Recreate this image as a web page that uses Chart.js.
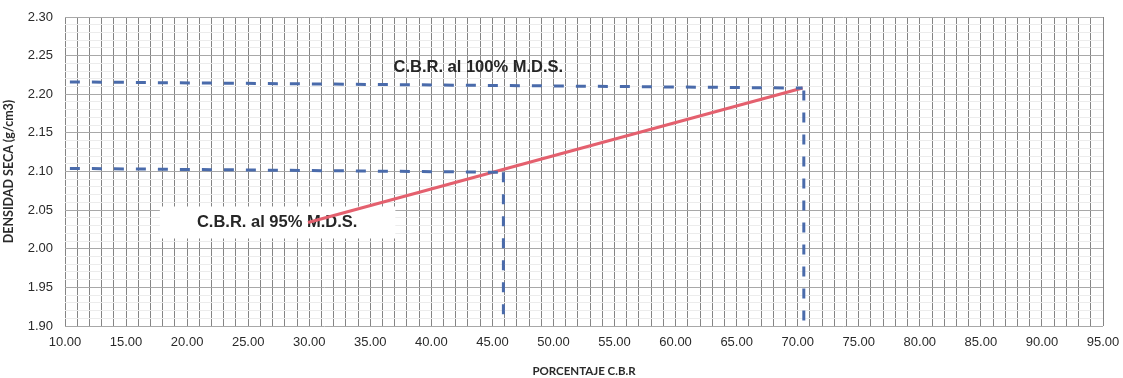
<!DOCTYPE html>
<html>
<head>
<meta charset="utf-8">
<script src="https://cdn.jsdelivr.net/npm/chart.js@4.4.1/dist/chart.umd.min.js"></script>
<style>
html,body{margin:0;padding:0;background:#fff;}
#wrap{width:1123px;height:378px;position:relative;}
</style>
</head>
<body>
<div id="wrap"><canvas id="c" width="1123" height="378"></canvas></div>
<script>
// ---- data ----
const xMin = 10, xMax = 95, xStep = 1, xLabelEvery = 5;
const yMin = 1.90, yMax = 2.30, yStep = 0.01, yLabelEvery = 0.05;

const cbrLineX = [29.9, 70.4];
const cbrLineY = [2.034, 2.208];

const upperRefX = [10.4, 70.4];
const upperRefY = [2.216, 2.208];

const lowerRefX = [10.4, 45.9];
const lowerRefY = [2.104, 2.099];

const vertLeftX = [45.9, 45.9];
const vertLeftY = [2.099, 1.90];

const vertRightX = [70.5, 70.5];
const vertRightY = [2.205, 1.90];

const label100 = "C.B.R. al 100% M.D.S.";
const label100Pos = [36.9, 2.235];
const label95 = "C.B.R. al 95% M.D.S.";
const label95Pos = [20.8, 2.034];

const xTitle = "PORCENTAJE C.B.R";
const yTitle = "DENSIDAD SECA (g/cm3)";

function pts(xs, ys){ return xs.map((x,i)=>({x:x, y:ys[i]})); }

const blue = '#4a6bab';
const red = '#e4606e';

const annotPlugin = {
  id: 'annot',
  beforeDatasetsDraw(chart){
    const {ctx, scales:{x, y}} = chart;
    ctx.save();
    ctx.font = 'bold 16.5px "Liberation Sans", Arial, sans-serif';
    ctx.textBaseline = 'middle';
    ctx.textAlign = 'left';
    // 95% label with white box
    const px95 = x.getPixelForValue(label95Pos[0]);
    const py95 = y.getPixelForValue(label95Pos[1]);
    const w95 = ctx.measureText(label95).width;
    ctx.fillStyle = '#ffffff';
    ctx.fillRect(px95 - 37, py95 - 16, w95 + 75, 32);
    ctx.fillStyle = '#262626';
    ctx.fillText(label95, px95, py95);
    // 100% label
    const px100 = x.getPixelForValue(label100Pos[0]);
    const py100 = y.getPixelForValue(label100Pos[1]);
    ctx.fillText(label100, px100, py100);
    ctx.restore();
  }
};

const dashedStyle = {borderColor: blue, borderWidth: 3, borderDash: [10, 12], pointRadius: 0, showLine: true, fill: false, borderCapStyle: 'butt'};

new Chart(document.getElementById('c'), {
  type: 'scatter',
  data: {
    datasets: [
      Object.assign({data: pts(upperRefX, upperRefY)}, dashedStyle),
      Object.assign({data: pts(lowerRefX, lowerRefY)}, dashedStyle),
      Object.assign({data: pts(vertLeftX, vertLeftY)}, dashedStyle),
      Object.assign({data: pts(vertRightX, vertRightY)}, dashedStyle),
      {data: pts(cbrLineX, cbrLineY), borderColor: red, borderWidth: 3, pointRadius: 0, showLine: true, fill: false}
    ]
  },
  options: {
    responsive: false,
    animation: false,
    layout: {padding: {top: 17, right: 20, left: 0, bottom: 0}},
    plugins: {legend: {display: false}, tooltip: {enabled: false}},
    scales: {
      x: {
        type: 'linear', min: xMin, max: xMax,
        afterFit(s){ s.height = 52; s.paddingLeft = 0; s.paddingRight = 0; },
        afterBuildTicks(s){
          const t = [];
          for (let v = xMin; v <= xMax + 1e-9; v += xStep) t.push({value: Math.round(v*100)/100});
          s.ticks = t;
        },
        ticks: {
          autoSkip: false, maxRotation: 0, padding: 9,
          color: '#2a2a2a',
          font: {family: '"Liberation Sans", Arial, sans-serif', size: 13},
          callback(v){ return (Math.abs(v % xLabelEvery) < 1e-6) ? v.toFixed(2) : ''; }
        },
        grid: {drawTicks: false, color: '#858585', lineWidth: 1},
        border: {display: false},
        title: {display: true, text: xTitle, color: '#2a2a2a', padding: {top: 0, bottom: 0},
          font: {family: 'Lato, sans-serif', size: 11.5, weight: 'bold'}}
      },
      y: {
        type: 'linear', min: yMin, max: yMax,
        afterFit(s){ s.width = 65; s.paddingTop = 0; s.paddingBottom = 0; },
        afterBuildTicks(s){
          const t = [];
          for (let i = 0; i <= Math.round((yMax - yMin)/yStep); i++) t.push({value: Math.round((yMin + i*yStep)*100)/100});
          s.ticks = t;
        },
        ticks: {
          autoSkip: false, padding: 12,
          color: '#2a2a2a',
          font: {family: '"Liberation Sans", Arial, sans-serif', size: 13},
          callback(v){ const k = Math.round(v*100); return (k % 5 === 0) ? v.toFixed(2) : ''; }
        },
        grid: {drawTicks: false, lineWidth: 1,
          color(ctx){ const k = Math.round(ctx.tick.value*100); return (k % 5 === 0) ? '#a8a8a8' : '#ececec'; }},
        border: {display: false},
        title: {display: true, text: yTitle, color: '#2a2a2a', padding: {top: 1, bottom: 0},
          font: {family: 'Lato, sans-serif', size: 12.5, weight: 'bold'}}
      }
    }
  },
  plugins: [annotPlugin]
});
</script>
</body>
</html>
